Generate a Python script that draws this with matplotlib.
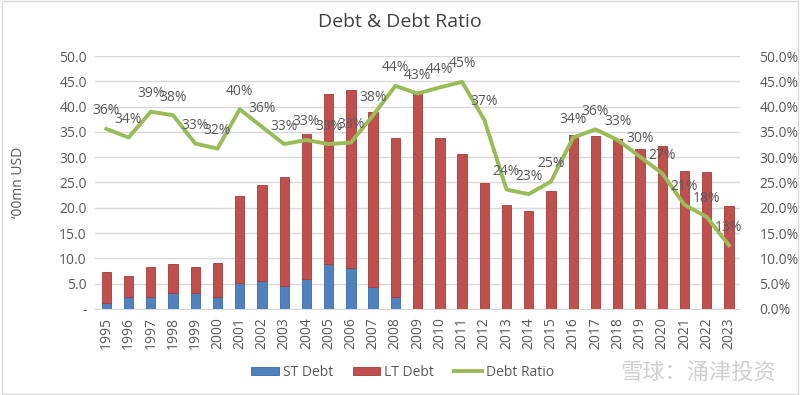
import matplotlib

matplotlib.use("Agg")
import matplotlib.pyplot as plt
from matplotlib.patches import Rectangle
from matplotlib.ticker import FuncFormatter, MultipleLocator

years = [str(y) for y in range(1995, 2024)]
st_debt = [1.1, 2.3, 2.3, 3.1, 3.1, 2.3, 5.1, 5.5, 4.6, 6.0,
           8.8, 8.0, 4.3, 2.3, 0, 0, 0, 0, 0, 0,
           0, 0, 0, 0, 0, 0, 0, 0, 0]
total_debt = [7.2, 6.6, 8.2, 8.8, 8.3, 9.1, 22.4, 24.6, 26.1, 34.5,
              42.6, 43.3, 39.0, 33.8, 42.5, 33.8, 30.7, 24.9, 20.5, 19.4,
              23.3, 34.4, 34.2, 33.7, 31.6, 32.3, 27.3, 27.0, 20.4]
lt_debt = [t - s for t, s in zip(total_debt, st_debt)]
debt_ratio = [35.6, 33.9, 39.0, 38.3, 32.7, 31.7, 39.5, 36.0, 32.6, 33.4,
              32.6, 32.9, 38.3, 44.1, 42.6, 43.8, 44.9, 37.4, 23.6, 22.7,
              25.2, 33.9, 35.5, 33.4, 30.1, 26.8, 20.6, 18.2, 12.6]

BLUE, RED, GREEN, GREY = "#4F81BD", "#C0504D", "#9BBB59", "#595959"
plt.rcParams["font.family"] = ["Open Sans", "DejaVu Sans"]

fig = plt.figure(figsize=(8, 3.95), dpi=100)
ax = fig.add_axes([0.119, 0.218, 0.806, 0.64])
x = range(len(years))

ax.bar(x, st_debt, width=0.42, color=BLUE, edgecolor="#3A6BA5", lw=0.6,
       label="ST Debt", zorder=2)
ax.bar(x, lt_debt, width=0.42, bottom=st_debt, color=RED,
       edgecolor="#A23C39", lw=0.6, label="LT Debt", zorder=2)
ax.set_ylim(0, 50)
ax.set_xlim(-0.5, len(years) - 0.5)
ax.yaxis.set_major_locator(MultipleLocator(5))
ax.yaxis.set_major_formatter(FuncFormatter(lambda v, _: "-" if v == 0 else f"{v:.1f}"))
ax.set_xticks(list(x))
ax.set_xticklabels(years, rotation=90)
ax.grid(axis="y", color="#D9D9D9", lw=1, zorder=0)
ax.set_axisbelow(True)
for s in ("top", "left", "right"):
    ax.spines[s].set_visible(False)
ax.spines["bottom"].set_color("#D9D9D9")
ax.tick_params(length=0, labelsize=10, colors=GREY, pad=6)
ax.set_ylabel("‘00mn USD", fontsize=10, color=GREY, labelpad=24)

ax2 = ax.twinx()
ax2.plot(x, debt_ratio, color=GREEN, lw=2.8, label="Debt Ratio", zorder=3)
ax2.set_ylim(0, 50)
ax2.yaxis.set_major_locator(MultipleLocator(5))
ax2.yaxis.set_major_formatter(FuncFormatter(lambda v, _: f"{v:.1f}%"))
for s in ax2.spines.values():
    s.set_visible(False)
ax2.tick_params(length=0, labelsize=10, colors=GREY, pad=14)
for xi, r in zip(x, debt_ratio):
    ax2.annotate(f"{r:.0f}%", (xi, r), xytext=(0, 13), textcoords="offset points",
                 ha="center", va="center", fontsize=10, color=GREY)

fig.text(0.5, 0.945, "Debt & Debt Ratio", ha="center", va="center",
         fontsize=14, color="#404040")
h1, l1 = ax.get_legend_handles_labels()
h2, l2 = ax2.get_legend_handles_labels()
fig.legend(h1 + h2, l1 + l2, loc="center", bbox_to_anchor=(0.503, 0.058),
           ncol=3, frameon=False, fontsize=10, labelcolor=GREY,
           handlelength=2.0, handleheight=0.5, columnspacing=1.4, handletextpad=0.3)
fig.text(0.97, 0.058, "雪球：涌津投资", ha="right", va="center", fontsize=16,
         color="#D0D0D0", family=["Noto Sans CJK SC", "DejaVu Sans"])
fig.patches.append(Rectangle((0.002, 0.003), 0.996, 0.994, transform=fig.transFigure,
                             fill=False, edgecolor="#D9D9D9", lw=1))

fig.savefig("out.png", facecolor="white")
